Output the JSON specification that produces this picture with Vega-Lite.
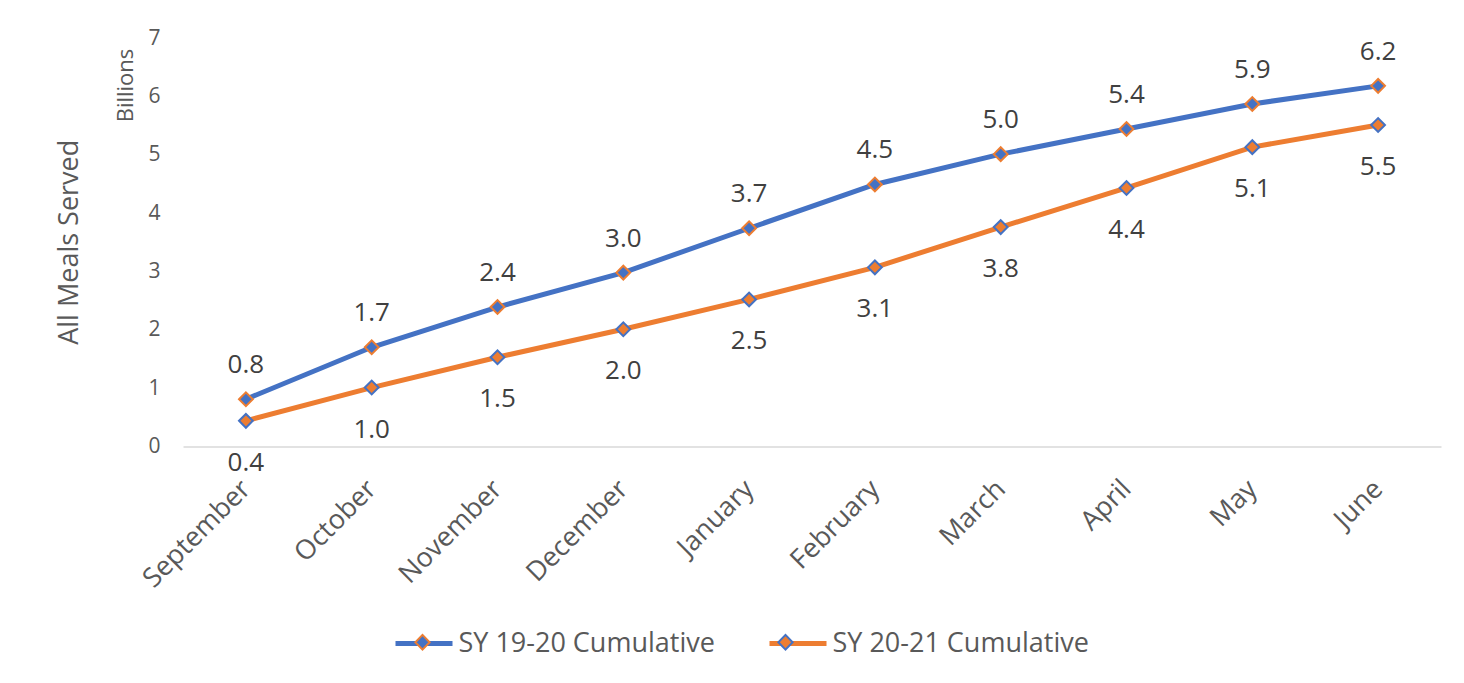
{
  "$schema": "https://vega.github.io/schema/vega-lite/v6.json",
  "width": 1258,
  "height": 408.5,
  "autosize": {"type": "none"},
  "padding": {"left": 183, "top": 38, "right": 23, "bottom": 236.5},
  "background": "white",
  "config": {"view": {"stroke": null}, "font": "Open Sans"},
  "title": {"text": "All Meals Served", "orient": "left", "anchor": "middle", "fontSize": 27, "color": "#595959", "fontWeight": "normal", "font": "Open Sans", "offset": 30},
  "data": {"values": [
    {"month": "September", "series": "SY 19-20 Cumulative", "value": 0.81},
    {"month": "October", "series": "SY 19-20 Cumulative", "value": 1.70},
    {"month": "November", "series": "SY 19-20 Cumulative", "value": 2.39},
    {"month": "December", "series": "SY 19-20 Cumulative", "value": 2.98},
    {"month": "January", "series": "SY 19-20 Cumulative", "value": 3.74},
    {"month": "February", "series": "SY 19-20 Cumulative", "value": 4.49},
    {"month": "March", "series": "SY 19-20 Cumulative", "value": 5.01},
    {"month": "April", "series": "SY 19-20 Cumulative", "value": 5.44},
    {"month": "May", "series": "SY 19-20 Cumulative", "value": 5.87},
    {"month": "June", "series": "SY 19-20 Cumulative", "value": 6.18},
    {"month": "September", "series": "SY 20-21 Cumulative", "value": 0.44},
    {"month": "October", "series": "SY 20-21 Cumulative", "value": 1.01},
    {"month": "November", "series": "SY 20-21 Cumulative", "value": 1.53},
    {"month": "December", "series": "SY 20-21 Cumulative", "value": 2.01},
    {"month": "January", "series": "SY 20-21 Cumulative", "value": 2.52},
    {"month": "February", "series": "SY 20-21 Cumulative", "value": 3.07},
    {"month": "March", "series": "SY 20-21 Cumulative", "value": 3.76},
    {"month": "April", "series": "SY 20-21 Cumulative", "value": 4.43},
    {"month": "May", "series": "SY 20-21 Cumulative", "value": 5.13},
    {"month": "June", "series": "SY 20-21 Cumulative", "value": 5.51}
  ]},
  "encoding": {
    "x": {"field": "month", "type": "ordinal", "sort": null,
      "axis": {"title": null, "labelAngle": -45, "labelAlign": "right", "labelBaseline": "middle", "labelFontSize": 27, "labelColor": "#595959", "labelPadding": 38, "labelLimit": 400, "ticks": false, "domainColor": "#D9D9D9", "domainWidth": 1.5, "grid": false}},
    "y": {"field": "value", "type": "quantitative", "scale": {"domain": [0, 7], "nice": false},
      "axis": {"title": "Billions", "titleX": -58, "titleY": 47, "titleAngle": 270, "titleAlign": "center", "titleBaseline": "middle", "titleFontSize": 22, "titleFontWeight": "normal", "titleColor": "#595959", "labelFontSize": 21, "labelColor": "#595959", "labelPadding": 23, "domain": false, "ticks": false, "grid": false, "values": [0, 1, 2, 3, 4, 5, 6, 7]}}
  },
  "layer": [
    {"mark": {"type": "line", "strokeWidth": 5},
     "encoding": {"color": {"field": "series", "type": "nominal",
       "scale": {"domain": ["SY 19-20 Cumulative", "SY 20-21 Cumulative"], "range": ["#4472C4", "#ED7D31"]},
       "legend": {"orient": "none", "legendX": 210, "legendY": 574.5, "direction": "horizontal", "title": null, "symbolType": "stroke", "symbolSize": 3249, "symbolStrokeWidth": 5, "labelFontSize": 27, "labelColor": "#595959", "labelFont": "Open Sans", "labelLimit": 600, "labelOffset": 3.5, "columnPadding": 44, "zindex": 0}}}},
    {"mark": {"type": "point", "shape": "diamond", "filled": true, "size": 190, "strokeWidth": 2, "opacity": 1},
     "encoding": {
       "fill": {"field": "series", "type": "nominal", "scale": {"range": ["#4472C4", "#ED7D31"]},
         "legend": {"orient": "none", "legendX": 210, "legendY": 574.5, "direction": "horizontal", "title": null, "symbolType": "M0,-0.26L0.25,0L0,0.26L-0.25,0Z", "symbolSize": 3249, "symbolStrokeWidth": 2, "labelFontSize": 27, "labelFont": "Open Sans", "labelLimit": 600, "labelOpacity": 0, "labelOffset": 3.5, "columnPadding": 44, "zindex": 1}},
       "stroke": {"field": "series", "type": "nominal", "scale": {"range": ["#ED7D31", "#4472C4"]},
         "legend": {"orient": "none", "legendX": 210, "legendY": 574.5, "direction": "horizontal", "title": null, "symbolType": "M0,-0.26L0.25,0L0,0.26L-0.25,0Z", "symbolSize": 3249, "symbolStrokeWidth": 2, "labelFontSize": 27, "labelFont": "Open Sans", "labelLimit": 600, "labelOpacity": 0, "labelOffset": 3.5, "columnPadding": 44, "zindex": 1}}}},
    {"transform": [{"filter": "datum.series == 'SY 19-20 Cumulative'"}],
     "mark": {"type": "text", "dy": -26, "fontSize": 26, "color": "#404040", "baseline": "alphabetic", "align": "center", "font": "Open Sans"},
     "encoding": {"text": {"field": "value", "type": "quantitative", "format": ".1f"}}},
    {"transform": [{"filter": "datum.series == 'SY 20-21 Cumulative'"}],
     "mark": {"type": "text", "dy": 50, "fontSize": 26, "color": "#404040", "baseline": "alphabetic", "align": "center", "font": "Open Sans"},
     "encoding": {"text": {"field": "value", "type": "quantitative", "format": ".1f"}}}
  ]
}
